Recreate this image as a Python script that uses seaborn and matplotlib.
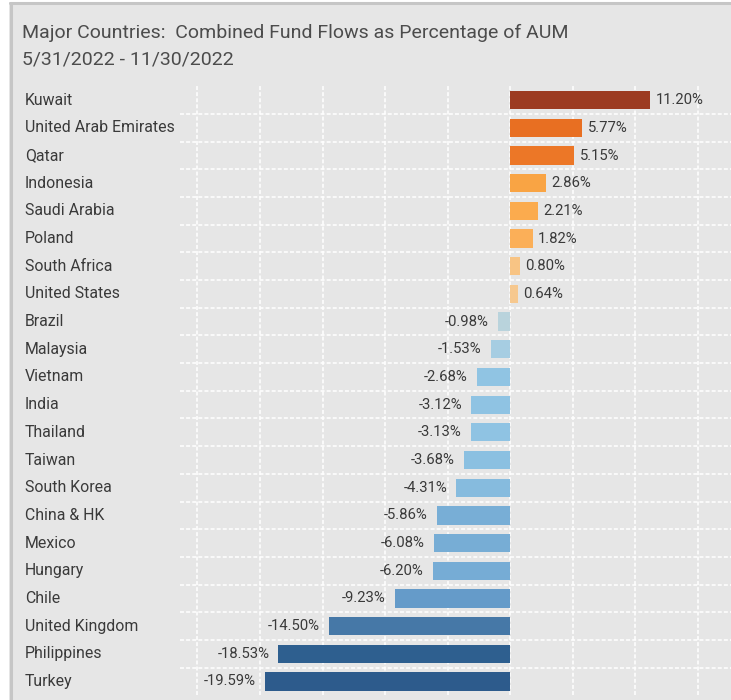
import matplotlib
matplotlib.use("Agg")
import matplotlib.pyplot as plt
import matplotlib.transforms as mtransforms
from matplotlib.lines import Line2D
from matplotlib.patches import Rectangle
import seaborn as sns
import pandas as pd

countries = ["Kuwait", "United Arab Emirates", "Qatar", "Indonesia", "Saudi Arabia",
             "Poland", "South Africa", "United States", "Brazil", "Malaysia", "Vietnam",
             "India", "Thailand", "Taiwan", "South Korea", "China & HK", "Mexico",
             "Hungary", "Chile", "United Kingdom", "Philippines", "Turkey"]
values = [11.20, 5.77, 5.15, 2.86, 2.21, 1.82, 0.80, 0.64, -0.98, -1.53, -2.68,
          -3.12, -3.13, -3.68, -4.31, -5.86, -6.08, -6.20, -9.23, -14.50, -18.53, -19.59]
colors = ["#9c3b21", "#e86f22", "#ec7727", "#f9a444", "#fbab4e", "#fbaf58",
          "#f8c484", "#f6c88f", "#b9d3dc", "#a6cde2", "#90c4e3", "#8fc3e3",
          "#8fc3e3", "#8bc0e1", "#86bbde", "#78aed6", "#77add5", "#76acd5",
          "#659bc9", "#4678a7", "#2e5f8f", "#2d5b8c"]
title_lines = ["Major Countries:  Combined Fund Flows as Percentage of AUM",
               "5/31/2022 - 11/30/2022"]

BG = "#e6e6e6"
TXT = "#3a3a3a"
FONT = ["Roboto", "DejaVu Sans"]

sns.set_theme(style="white")
plt.rcParams["font.family"] = FONT

W, H = 731, 700
fig = plt.figure(figsize=(W / 100, H / 100), dpi=100, facecolor=BG)

# white margin outside the panel + grey border lines (left and top)
fig.patches.append(Rectangle((0, 0), 9 / W, 1, transform=fig.transFigure,
                             facecolor="white", edgecolor="none", zorder=-10))
fig.patches.append(Rectangle((0, 1 - 2 / H), 1, 2 / H, transform=fig.transFigure,
                             facecolor="white", edgecolor="none", zorder=-10))
fig.lines.append(Line2D([10.5 / W, 10.5 / W], [0, 1 - 3 / H], transform=fig.transFigure,
                        color="#c6c6c6", linewidth=2.2, zorder=-5))
fig.lines.append(Line2D([9.5 / W, 1], [1 - 3 / H, 1 - 3 / H], transform=fig.transFigure,
                        color="#c6c6c6", linewidth=2.2, zorder=-5))

# axes extends past the right edge of the figure (panel is cut off there)
ax = fig.add_axes([180 / W, 4.7 / H, (760 - 180) / W, 609 / H])
ax.set_zorder(5)
ax.set_facecolor("none")

df = pd.DataFrame({"country": countries, "value": values})
sns.barplot(data=df, x="value", y="country", hue="country", palette=colors,
            legend=False, orient="h", width=0.66, saturation=1, linewidth=0,
            ax=ax, zorder=3)

ax.set_xlim(-26.4, 20.0)
ax.set_ylim(len(countries) - 0.5, -0.5)
ax.set_xticks([-25, -20, -15, -10, -5, 0, 5, 10, 15])
ax.set_yticks([i + 0.5 for i in range(len(countries) - 1)])
ax.grid(True, color="white", linestyle=(0, (2.6, 1.4)), linewidth=1.1, zorder=1)
ax.set_axisbelow(True)
ax.tick_params(left=False, bottom=False, labelleft=False, labelbottom=False)
for s in ax.spines.values():
    s.set_visible(False)
ax.set_xlabel("")
ax.set_ylabel("")

# value labels
for i, v in enumerate(values):
    if v >= 0:
        ax.annotate(f"{v:.2f}%", (v, i), xytext=(4, 0), textcoords="offset points",
                    ha="left", va="center", fontsize=10.7, color=TXT)
    else:
        ax.annotate(f"{v:.2f}%", (v, i), xytext=(-6.5, 0), textcoords="offset points",
                    ha="right", va="center", fontsize=10.7, color=TXT)

# country labels
trans = mtransforms.blended_transform_factory(fig.transFigure, ax.transData)
for i, c in enumerate(countries):
    ax.text(25 / W, i, c, transform=trans, ha="left", va="center",
            fontsize=11.4, color=TXT, clip_on=False)

fig.text(22 / W, 1 - 33 / H, title_lines[0], ha="left", va="center",
         fontsize=14.0, color="#4c4c4c")
fig.text(22 / W, 1 - 59 / H, title_lines[1], ha="left", va="center",
         fontsize=14.0, color="#4c4c4c")

fig.savefig("out.png", dpi=100, facecolor=BG)
